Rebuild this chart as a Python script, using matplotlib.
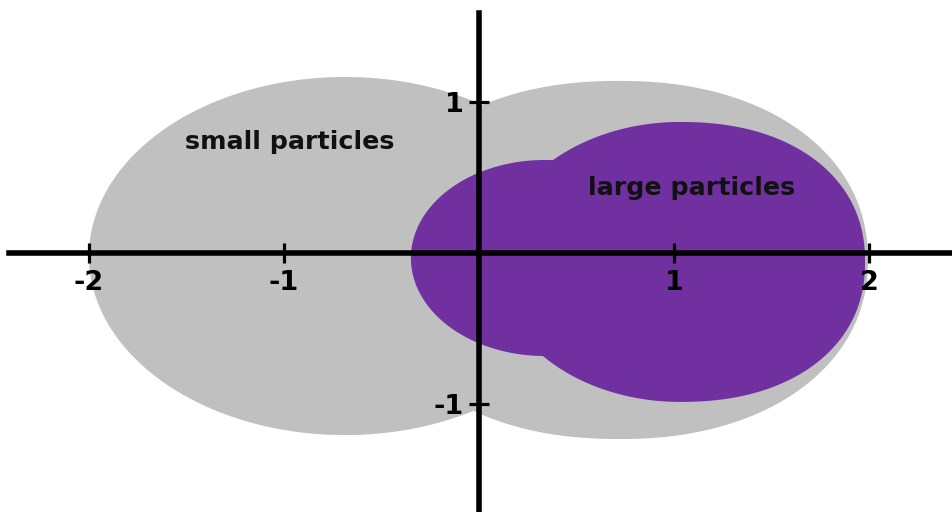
import numpy as np
import matplotlib
matplotlib.use("Agg")
import matplotlib.pyplot as plt

# ---- data: scattering-pattern lobes (centre, semi-axes, shape exponent) ----
lobe_group   = ["small", "small", "large", "large"]
lobe_cx      = [-0.687, 0.723, 0.338, 1.031]
lobe_cy      = [-0.020, -0.046, -0.033, -0.059]
lobe_a       = [1.313, 1.272, 0.687, 0.949]
lobe_b       = [1.182, 1.182, 0.647, 0.924]
lobe_n_left  = [2.0, 2.2, 2.0, 2.0]
lobe_n_right = [2.0, 2.15, 2.0, 2.2]

label_text = ["small particles", "large particles"]
label_x    = [-0.972, 1.090]
label_y    = [0.686, 0.383]

xtick_vals = [-2, -1, 1, 2]
xtick_lbls = ["-2", "-1", "1", "2"]
ytick_vals = [-1, 1]
ytick_lbls = ["-1", "1"]

colors = {"small": "#C0C0C0", "large": "#7030A0"}

# ---- figure ----
fig = plt.figure(figsize=(9.53, 5.12), dpi=100)
ax = fig.add_axes([9 / 953, 0, 944 / 953, 499 / 512])
ax.set_xlim(-2.410, 2.431)
ax.set_ylim(-1.7096, 1.5842)

t = np.linspace(0, 2 * np.pi, 1441)
c, s = np.cos(t), np.sin(t)
for grp in ["small", "large"]:
    for g, cx, cy, a, b, nl, nr in zip(lobe_group, lobe_cx, lobe_cy, lobe_a,
                                       lobe_b, lobe_n_left, lobe_n_right):
        if g != grp:
            continue
        n = np.where(c >= 0, nr, nl)
        x = cx + a * np.sign(c) * np.abs(c) ** (2 / n)
        y = cy + b * np.sign(s) * np.abs(s) ** (2 / n)
        ax.fill(x, y, color=colors[g], lw=0, zorder=1)

for txt, x, y in zip(label_text, label_x, label_y):
    ax.text(x, y, txt, ha="center", va="baseline", fontsize=18.3,
            fontweight="bold", family="DejaVu Sans", color="#111111", zorder=3)

for side in ["top", "right"]:
    ax.spines[side].set_visible(False)
for side in ["left", "bottom"]:
    ax.spines[side].set_position(("data", 0))
    ax.spines[side].set_linewidth(4)
    ax.spines[side].set_color("black")
    ax.spines[side].set_zorder(4)

ax.set_xticks(xtick_vals)
ax.set_xticklabels(xtick_lbls)
ax.set_yticks(ytick_vals)
ax.set_yticklabels(ytick_lbls)
ax.tick_params(axis="both", direction="inout", length=15, width=2.3,
               colors="black", labelsize=19.5)
ax.tick_params(axis="x", pad=4.5)
ax.tick_params(axis="y", pad=3.5)
for lbl in ax.get_xticklabels() + ax.get_yticklabels():
    lbl.set_fontweight("bold")
    lbl.set_family("DejaVu Sans")

ax.patch.set_alpha(0)
fig.savefig("out.png", dpi=100)
